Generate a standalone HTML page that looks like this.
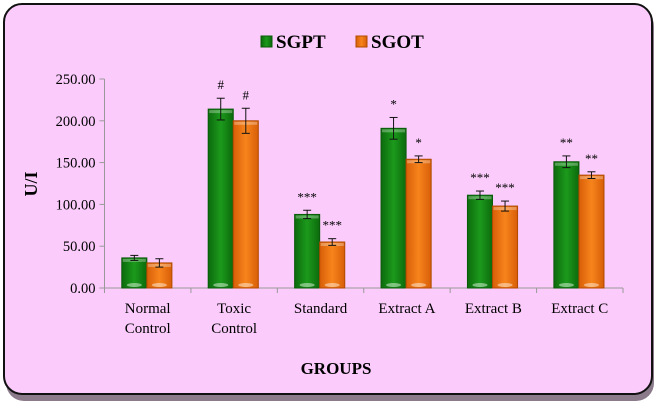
<!DOCTYPE html>
<html><head><meta charset="utf-8"><style>
body{margin:0;background:#fff;width:658px;height:405px;overflow:hidden}
svg text{font-family:"Liberation Serif",serif}
</style></head><body>
<svg width="658" height="405">
<defs>
<linearGradient id="gg" x1="0" x2="1"><stop offset="0" stop-color="#0c6a0c"/><stop offset="0.5" stop-color="#1c9a1c"/><stop offset="1" stop-color="#0c6a0c"/></linearGradient>
<linearGradient id="og" x1="0" x2="1"><stop offset="0" stop-color="#d85e08"/><stop offset="0.5" stop-color="#f7841c"/><stop offset="1" stop-color="#d85e08"/></linearGradient>
</defs>
<rect x="6" y="8" width="648" height="393" rx="18" fill="#8a7a8a"/>
<rect x="4" y="4" width="648" height="390" rx="18" fill="#fbccfb" stroke="#111" stroke-width="2"/>
<g id="legend">
<rect x="261" y="36" width="11" height="11" fill="url(#gg)" stroke="#0a5a0a"/>
<text x="276" y="48" font-size="19" font-weight="bold">SGPT</text>
<rect x="356" y="36" width="11" height="11" fill="url(#og)" stroke="#b04a00"/>
<text x="371" y="48" font-size="19" font-weight="bold">SGOT</text>
</g>
<text transform="translate(37,184) rotate(-90)" text-anchor="middle" font-size="18" font-weight="bold">U/I</text>
<text x="336" y="374" text-anchor="middle" font-size="17" font-weight="bold">GROUPS</text>
<g id="plot"></g>
</svg>
<script>
const categories=[["Normal","Control"],["Toxic","Control"],["Standard"],["Extract A"],["Extract B"],["Extract C"]];
const sgpt=[36,214,88,191,111,151];
const sgot=[30,200,55,154,98,135];
const sgptErr=[3,13,5,13,5,7];
const sgotErr=[5,15,4,4,6,4];
const sgptMarks=["","#","***","*","***","**"];
const sgotMarks=["","#","***","*","***","**"];
const yTicks=[0,50,100,150,200,250];
const yTickLabels=["0.00","50.00","100.00","150.00","200.00","250.00"];

const X0=104.5,X1=623,Y0=288,Y1=79,YMAX=250;
const bw=(X1-X0)/categories.length;
const y=v=>Y0-(v/YMAX)*(Y0-Y1);
const xc=i=>X0+bw*i;
const NS="http://www.w3.org/2000/svg";
const g=document.getElementById('plot');
function mk(t,a,p){const e=document.createElementNS(NS,t);for(const k in a)e.setAttribute(k,a[k]);(p||g).appendChild(e);return e;}
let ax=mk('line',{x1:X0,y1:Y1,x2:X0,y2:Y0,stroke:'#999'});


let bx=mk('line',{x1:X0,y1:Y0,x2:X1,y2:Y0,stroke:'#999'});


yTicks.forEach((v,i)=>{
 mk('line',{x1:X0-5,y1:y(v),x2:X0,y2:y(v),stroke:'#999'});
 const t=mk('text',{x:X0-9,y:y(v)+5,'text-anchor':'end','font-size':14.5});
 t.textContent=yTickLabels[i];
 
 
});
for(let i=0;i<=categories.length;i++)mk('line',{x1:xc(i),y1:Y0,x2:xc(i),y2:Y0+5,stroke:'#999'});
function bar(i,v,e,m,off,fill,stroke,name){
 const x=xc(i)+bw*0.2+off, w=bw*0.29;
 const r=mk('rect',{x:x,y:y(v),width:w,height:Y0-y(v),fill:fill,stroke:stroke,'stroke-width':1});
 
 
 mk('ellipse',{cx:x+w/2,cy:Y0-3,rx:w*0.3,ry:2,fill:'rgba(255,255,255,0.45)'});
 mk('rect',{x:x+1,y:y(v)+1,width:w-2,height:3,fill:'rgba(255,255,255,0.3)'});
 const cx=x+w/2;
 mk('line',{x1:cx,y1:y(v+e),x2:cx,y2:y(v-e),stroke:'#111'});
 mk('line',{x1:cx-4,y1:y(v+e),x2:cx+4,y2:y(v+e),stroke:'#111'});
 mk('line',{x1:cx-4,y1:y(v-e),x2:cx+4,y2:y(v-e),stroke:'#111'});
 if(m){const t=mk('text',{x:cx,y:y(v+e)-9,'text-anchor':'middle','font-size':13});t.textContent=m;
 
 }
}
categories.forEach((c,i)=>{
 bar(i,sgpt[i],sgptErr[i],sgptMarks[i],0,'url(#gg)','#0a5a0a','bar-sgpt');
 bar(i,sgot[i],sgotErr[i],sgotMarks[i],bw*0.29,'url(#og)','#b04a00','bar-sgot');
 c.forEach((line,j)=>{
  const t=mk('text',{x:xc(i)+bw/2,y:313+j*20,'text-anchor':'middle','font-size':15});
  t.textContent=line;
  
  
 });
});
</script>
</body></html>
